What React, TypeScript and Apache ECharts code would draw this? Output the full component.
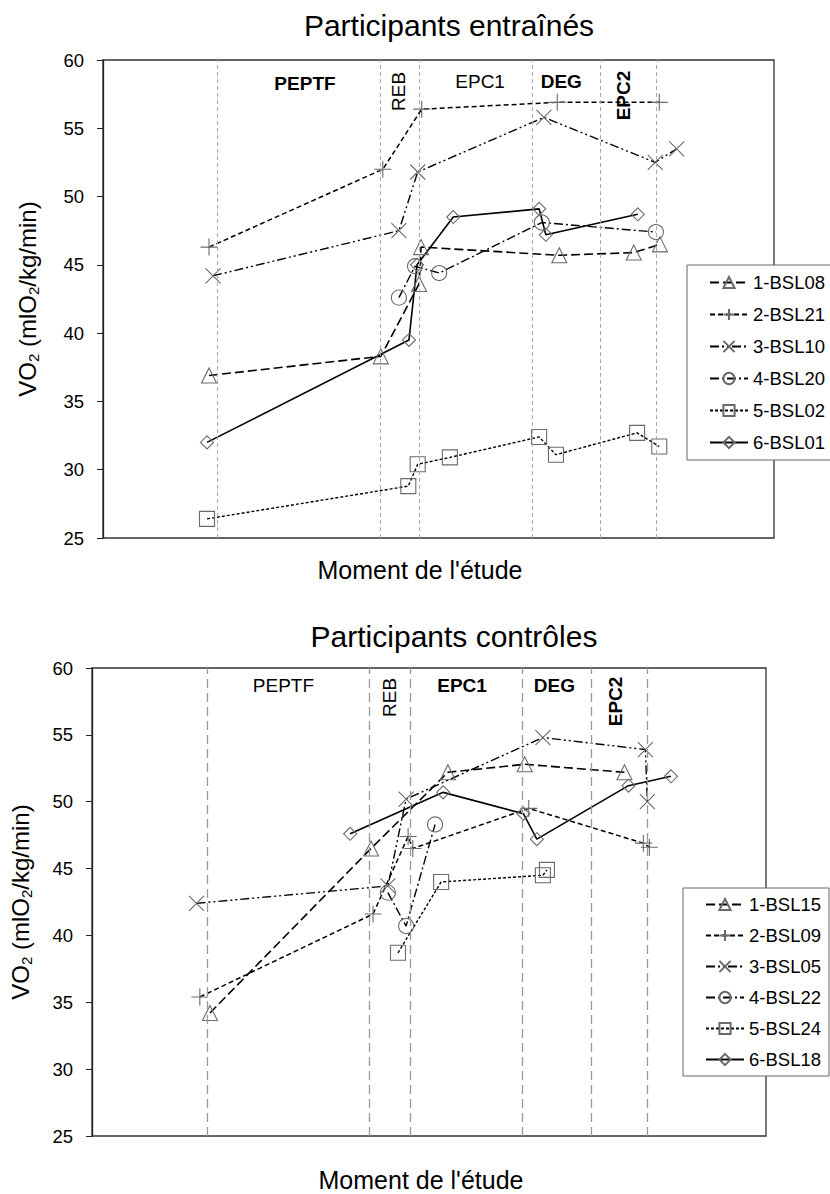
import React, { useEffect, useRef } from "react";
import * as echarts from "echarts";

const FONT = "'Liberation Sans', Arial, sans-serif";

// Phase boundaries (x positions on the study timeline, arbitrary units 0-100)
const TOP_PHASE_LINES = [17.1, 41.3, 47.1, 63.9, 74.1, 82.4];
const BOT_PHASE_LINES = [17.1, 41.2, 47.2, 63.8, 74.0, 82.4];

const PHASE_NAMES = ["PEPTF", "REB", "EPC1", "DEG", "EPC2"];
const PHASE_ROTATE = [0, 90, 0, 0, 90];
const TOP_PHASE_X = [30.1, 44.0, 56.2, 68.3, 77.6];
const TOP_PHASE_Y = [58.3, 57.7, 58.4, 58.4, 57.4];
const TOP_PHASE_BOLD = [true, false, false, true, true];
const BOT_PHASE_X = [28.4, 44.1, 54.9, 68.6, 77.6];
const BOT_PHASE_Y = [58.7, 57.8, 58.7, 58.7, 57.5];
const BOT_PHASE_BOLD = [false, false, true, true, true];

// Participants entraînés
const TOP_NAMES = ["1-BSL08", "2-BSL21", "3-BSL10", "4-BSL20", "5-BSL02", "6-BSL01"];
const T_BSL08 = [[15.8, 36.9], [41.4, 38.3], [47.1, 43.6], [47.4, 46.3], [68.0, 45.7], [79.1, 45.9], [83.0, 46.5]];
const T_BSL21 = [[15.8, 46.3], [41.7, 52.0], [47.5, 56.4], [67.7, 56.9], [82.9, 56.9]];
const T_BSL10 = [[16.4, 44.2], [44.1, 47.5], [46.9, 51.8], [65.7, 55.8], [82.3, 52.5], [85.5, 53.5]];
const T_BSL20 = [[44.1, 42.6], [46.5, 44.9], [50.1, 44.4], [65.4, 48.1], [82.4, 47.4]];
const T_BSL02 = [[15.5, 26.4], [45.5, 28.8], [46.9, 30.4], [51.7, 30.9], [65.0, 32.4], [67.5, 31.1], [79.6, 32.7], [82.9, 31.7]];
const T_BSL01 = [[15.5, 32.0], [45.6, 39.5], [46.8, 45.0], [52.2, 48.5], [65.0, 49.1], [66.0, 47.2], [79.7, 48.7]];

// Participants contrôles
const BOT_NAMES = ["1-BSL15", "2-BSL09", "3-BSL05", "4-BSL22", "5-BSL24", "6-BSL18"];
const B_BSL15 = [[17.5, 34.2], [41.4, 46.5], [52.8, 52.2], [64.2, 52.8], [79.0, 52.2]];
const B_BSL09 = [[16.0, 35.4], [41.7, 41.6], [46.9, 47.4], [47.6, 46.5], [64.8, 49.5], [81.8, 46.9], [82.7, 46.6]];
const B_BSL05 = [[15.5, 42.4], [43.9, 43.7], [46.6, 50.2], [66.9, 54.8], [82.1, 53.9], [82.4, 50.0]];
const B_BSL22 = [[43.9, 43.2], [46.6, 40.7], [50.9, 48.3]];
const B_BSL24 = [[45.4, 38.7], [51.8, 44.0], [66.9, 44.5], [67.5, 44.9]];
const B_BSL18 = [[38.3, 47.6], [52.1, 50.7], [64.0, 49.1], [66.0, 47.2], [79.6, 51.2], [85.9, 51.9]];

const Y_MIN = 25;
const Y_MAX = 60;
const Y_STEP = 5;

const PLUS = "path://M5,0 L5,10 M0,5 L10,5";
const CROSS = "path://M0,0 L10,10 M10,0 L0,10";

// marker + line style per participant slot (1..6)
const STYLES = [
  { symbol: "triangle", size: 15, dash: [9, 4], width: 1.6 },
  { symbol: PLUS, size: 17, dash: [5, 3], width: 1.5 },
  { symbol: CROSS, size: 15, dash: [9, 3, 2, 3, 2, 3], width: 1.4 },
  { symbol: "circle", size: 15, dash: [9, 3, 2, 3], width: 1.4 },
  { symbol: "rect", size: 15, dash: [3, 2], width: 1.4 },
  { symbol: "diamond", size: 13, dash: "solid", width: 1.6 },
];

function lineSeries(name: string, data: number[][], idx: number, slot: number) {
  const s = STYLES[slot];
  return {
    name,
    type: "line",
    xAxisIndex: idx,
    yAxisIndex: idx,
    data,
    symbol: s.symbol,
    symbolSize: s.size,
    showSymbol: true,
    lineStyle: { color: "#000", width: s.width, type: s.dash },
    itemStyle: { color: "rgba(255,255,255,0)", borderColor: "#6a6a6a", borderWidth: 1.1 },
    emphasis: { disabled: true },
    z: 3,
  };
}

function phaseSeries(idx: number, xs: number[], ys: number[], bold: boolean[], lines: number[], lineStyle: any) {
  return {
    type: "scatter",
    xAxisIndex: idx,
    yAxisIndex: idx,
    symbolSize: 0,
    silent: true,
    itemStyle: { opacity: 1 },
    data: PHASE_NAMES.map((n, i) => ({
      name: n,
      value: [xs[i], ys[i]],
      label: { rotate: PHASE_ROTATE[i], fontWeight: bold[i] ? "bold" : "normal" },
    })),
    label: {
      show: true,
      position: "inside",
      formatter: "{b}",
      fontSize: 19,
      fontFamily: FONT,
      color: "#000",
      opacity: 1,
      textBorderWidth: 0,
    },
    markLine: {
      silent: true,
      symbol: "none",
      label: { show: false },
      lineStyle,
      data: lines.map((v) => ({ xAxis: v })),
    },
    z: 1,
  };
}

const yName = "{a|VO}{s|2}{a| (mlO}{s|2}{a|/kg/min)}";
const yRich = {
  a: { fontSize: 24, fontFamily: FONT, color: "#000", lineHeight: 28 },
  s: { fontSize: 15, fontFamily: FONT, color: "#000", lineHeight: 14, verticalAlign: "bottom" },
};

function yAxis(gridIndex: number, nameGap: number) {
  return {
    type: "value",
    gridIndex,
    min: Y_MIN,
    max: Y_MAX,
    interval: Y_STEP,
    name: yName,
    nameLocation: "middle",
    nameRotate: 90,
    nameGap,
    nameTextStyle: { rich: yRich },
    axisLine: { show: true, lineStyle: { color: "#222", width: 1.3 } },
    axisTick: { show: true, length: 6, lineStyle: { color: "#222" } },
    axisLabel: { fontSize: 18.5, fontFamily: FONT, color: "#000", margin: 19 },
    splitLine: { show: false },
  };
}

function xAxis(gridIndex: number) {
  return {
    type: "value",
    gridIndex,
    min: 0,
    max: 100,
    axisLine: { show: false },
    axisTick: { show: false },
    axisLabel: { show: false },
    splitLine: { show: false },
  };
}

function legend(names: string[], left: number, top: number, gap: number, pad: number) {
  return {
    data: names,
    orient: "vertical",
    left,
    top,
    itemWidth: 38,
    itemHeight: 14,
    itemGap: gap,
    padding: [pad, 8, pad, 22],
    backgroundColor: "#fff",
    borderColor: "#666",
    borderWidth: 1,
    borderRadius: 0,
    selectedMode: false,
    textStyle: { fontSize: 18.5, fontFamily: FONT, color: "#000" },
    z: 10,
  };
}

function text(t: string, x: number, y: number, size: number) {
  return {
    type: "text",
    x,
    y,
    style: { text: t, fontSize: size, fontFamily: FONT, fill: "#000", align: "center", verticalAlign: "middle" },
  };
}

export default function App() {
  const ref = useRef<HTMLDivElement>(null);
  useEffect(() => {
    document.body.style.margin = "0";
    const chart = echarts.init(ref.current!, undefined, { renderer: "svg" });
    const topData = [T_BSL08, T_BSL21, T_BSL10, T_BSL20, T_BSL02, T_BSL01];
    const botData = [B_BSL15, B_BSL09, B_BSL05, B_BSL22, B_BSL24, B_BSL18];
    chart.setOption({
      animation: false,
      backgroundColor: "#fff",
      grid: [
        { left: 103, top: 60, width: 671, height: 478, show: true, borderColor: "#333", borderWidth: 1.3, backgroundColor: "#fff" },
        { left: 90, top: 668, width: 676, height: 468, show: true, borderColor: "#333", borderWidth: 1.3, backgroundColor: "#fff" },
      ],
      xAxis: [xAxis(0), xAxis(1)],
      yAxis: [yAxis(0, 62), yAxis(1, 58)],
      legend: [legend(TOP_NAMES, 687, 265, 13, 8), legend(BOT_NAMES, 683, 888, 12, 7)],
      graphic: [
        text("Participants entraînés", 449, 25, 30),
        text("Moment de l'étude", 420, 570, 25),
        text("Participants contrôles", 454, 636, 30),
        text("Moment de l'étude", 421, 1180, 25),
      ],
      series: [
        phaseSeries(0, TOP_PHASE_X, TOP_PHASE_Y, TOP_PHASE_BOLD, TOP_PHASE_LINES, { color: "#aaa", width: 1, type: [4, 3] }),
        phaseSeries(1, BOT_PHASE_X, BOT_PHASE_Y, BOT_PHASE_BOLD, BOT_PHASE_LINES, { color: "#999", width: 1.3, type: [9, 5] }),
        ...TOP_NAMES.map((n, i) => lineSeries(n, topData[i], 0, i)),
        ...BOT_NAMES.map((n, i) => lineSeries(n, botData[i], 1, i)),
      ],
    });
    return () => chart.dispose();
  }, []);
  return <div ref={ref} style={{ width: 830, height: 1194 }} />;
}
